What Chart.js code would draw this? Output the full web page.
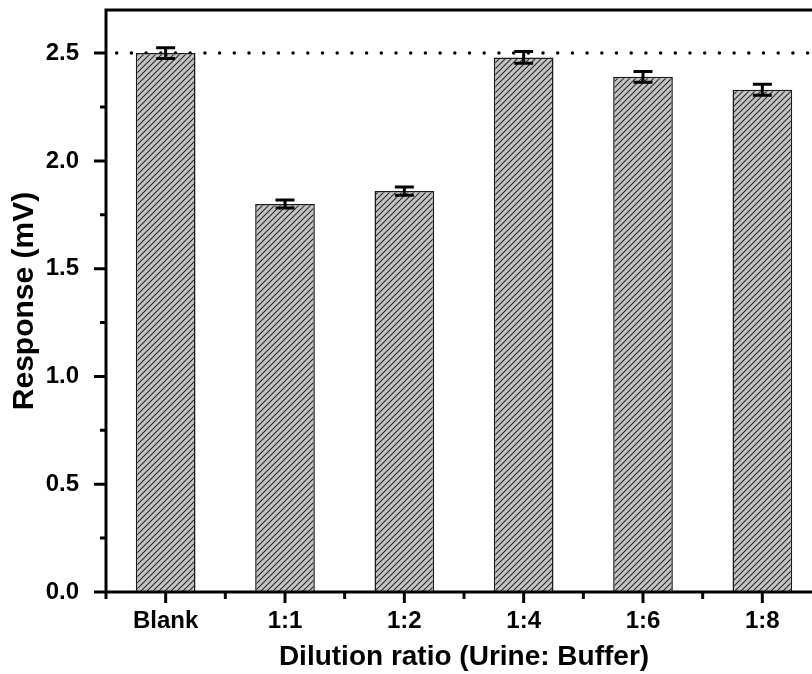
<!DOCTYPE html>
<html>
<head>
<meta charset="utf-8">
<script src="https://cdn.jsdelivr.net/npm/chart.js@4.4.1/dist/chart.umd.min.js"></script>
<style>
  html, body { margin: 0; padding: 0; background: #fff; overflow: hidden; }
  #wrap { width: 830px; height: 674px; }
</style>
</head>
<body>
<div id="wrap"><canvas id="grafico" width="830" height="674"></canvas></div>
<script>
const categorias = ['Blank', '1:1', '1:2', '1:4', '1:6', '1:8'];
const resposta = [2.50, 1.80, 1.86, 2.48, 2.39, 2.33];
const erro = [0.025, 0.019, 0.019, 0.027, 0.025, 0.026];
const linhaReferencia = 2.5;

const fonte = '"Liberation Sans", Arial, Helvetica, sans-serif';

// hachura diagonal cinza para as barras
function criarHachura() {
  const c = document.createElement('canvas');
  c.width = 6; c.height = 6;
  const g = c.getContext('2d');
  g.fillStyle = '#c4c4c4';
  g.fillRect(0, 0, 6, 6);
  g.strokeStyle = '#2a2a2a';
  g.lineWidth = 1.1;
  g.beginPath();
  g.moveTo(-1, 7); g.lineTo(7, -1);
  g.moveTo(-4, 4); g.lineTo(4, -4);
  g.moveTo(2, 10); g.lineTo(10, 2);
  g.stroke();
  return g.createPattern(c, 'repeat');
}

// linha pontilhada, eixos com ticks maiores/menores e barras de erro
const extras = {
  id: 'extras',
  beforeDatasetsDraw(chart) {
    const { ctx, chartArea: a, scales: { y } } = chart;
    const yr = y.getPixelForValue(linhaReferencia);
    ctx.save();
    ctx.strokeStyle = '#000';
    ctx.lineWidth = 3.5;
    ctx.lineCap = 'round';
    ctx.setLineDash([0, 14.7]);
    ctx.beginPath();
    ctx.moveTo(a.left + 10.7, yr);
    ctx.lineTo(a.right + 20, yr);
    ctx.stroke();
    ctx.restore();
  },
  afterDatasetsDraw(chart) {
    const { ctx, chartArea: a, scales: { x, y } } = chart;
    const meta = chart.getDatasetMeta(0);
    ctx.save();
    ctx.strokeStyle = '#000';
    ctx.lineWidth = 3;
    ctx.lineCap = 'butt';

    // barras de erro
    meta.data.forEach((bar, i) => {
      const yt = y.getPixelForValue(resposta[i] + erro[i]);
      const yb = y.getPixelForValue(resposta[i] - erro[i]);
      ctx.beginPath();
      ctx.moveTo(bar.x, yt); ctx.lineTo(bar.x, yb);
      ctx.moveTo(bar.x - 9.5, yt); ctx.lineTo(bar.x + 9.5, yt);
      ctx.moveTo(bar.x - 9.5, yb); ctx.lineTo(bar.x + 9.5, yb);
      ctx.stroke();
    });

    // eixos e moldura superior
    ctx.beginPath();
    ctx.moveTo(a.left, a.top); ctx.lineTo(a.right + 10, a.top);
    ctx.moveTo(a.left, a.top - 1.5); ctx.lineTo(a.left, a.bottom + 1.5);
    ctx.moveTo(a.left - 1.5, a.bottom); ctx.lineTo(a.right + 10, a.bottom);
    ctx.stroke();

    // ticks do eixo y (0.5 maiores, 0.25 menores)
    ctx.beginPath();
    for (let v = 0; v <= y.max + 1e-9; v += 0.25) {
      const py = y.getPixelForValue(v);
      const maior = Math.abs(v / 0.5 - Math.round(v / 0.5)) < 1e-6;
      ctx.moveTo(a.left - (maior ? 12 : 6), py);
      ctx.lineTo(a.left, py);
    }
    // ticks do eixo x (centros maiores, divisões menores)
    categorias.forEach((_, i) => {
      const px = x.getPixelForValue(i);
      ctx.moveTo(px, a.bottom); ctx.lineTo(px, a.bottom + 11);
      const pm = x.getPixelForValue(i - 0.5);
      ctx.moveTo(pm, a.bottom); ctx.lineTo(pm, a.bottom + 7);
    });
    const pf = x.getPixelForValue(categorias.length - 0.5);
    ctx.moveTo(pf, a.bottom); ctx.lineTo(pf, a.bottom + 7);
    ctx.stroke();
    ctx.restore();
  }
};

const ctx = document.getElementById('grafico').getContext('2d');

let grafico = new Chart(ctx, {
  type: 'bar',
  data: {
    labels: categorias,
    datasets: [{
      data: resposta,
      backgroundColor: criarHachura(),
      borderColor: '#1a1a1a',
      borderWidth: 1.5,
      barPercentage: 0.5,
      categoryPercentage: 1.0
    }]
  },
  options: {
    responsive: false,
    animation: false,
    layout: { padding: { top: 10, right: 8, left: 0, bottom: 0 } },
    plugins: {
      legend: { display: false },
      tooltip: { enabled: false }
    },
    scales: {
      x: {
        offset: true,
        grid: { display: false },
        border: { display: false },
        ticks: {
          color: '#000',
          padding: 7,
          font: { family: fonte, size: 24, weight: 'bold' }
        },
        title: {
          display: true,
          text: 'Dilution ratio (Urine: Buffer)',
          color: '#000',
          padding: { top: 0, bottom: 0 },
          font: { family: fonte, size: 28, weight: 'bold' }
        },
        afterFit(s) { s.height = 82; }
      },
      y: {
        min: 0,
        max: 2.7,
        grid: { display: false },
        border: { display: false },
        ticks: {
          stepSize: 0.5,
          color: '#000',
          padding: 19,
          font: { family: fonte, size: 24, weight: 'bold' },
          callback: v => v.toFixed(1)
        },
        afterBuildTicks(s) {
          s.ticks = s.ticks.filter(t => t.value <= 2.5 + 1e-9);
        },
        title: {
          display: true,
          text: 'Response (mV)',
          color: '#000',
          padding: { top: 7, bottom: 0 },
          font: { family: fonte, size: 30, weight: 'bold' }
        },
        afterFit(s) {
          s.width = 106;
          s.paddingTop = 0;
          s.paddingBottom = 0;
        }
      }
    }
  },
  plugins: [extras]
});
</script>
</body>
</html>
